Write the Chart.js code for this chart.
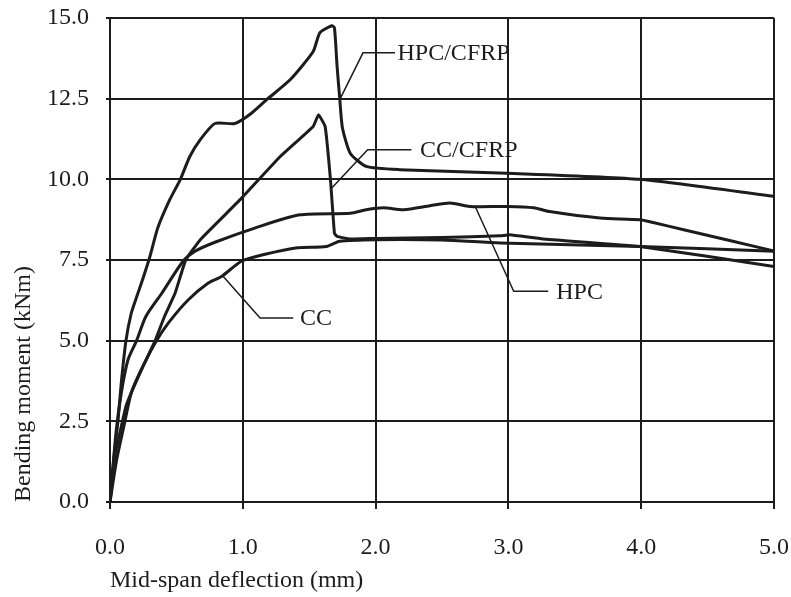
<!DOCTYPE html>
<html>
<head>
<meta charset="utf-8">
<script src="https://cdn.jsdelivr.net/npm/chart.js@4.4.1/dist/chart.umd.min.js"></script>
<style>
  html, body { margin: 0; padding: 0; background: #ffffff; }
  #wrap { width: 791px; height: 597px; }
</style>
</head>
<body>
<div id="wrap"><canvas id="c" width="791" height="597"></canvas></div>
<script>
// ---- Data ----
const xTickValues = [0, 1, 2, 3, 4, 5];
const yTickValues = [0, 2.5, 5, 7.5, 10, 12.5, 15];

const hpcCfrpX = [0, 0.03, 0.06, 0.085, 0.12, 0.16, 0.2, 0.25, 0.3, 0.36, 0.45, 0.53, 0.6, 0.68, 0.79, 0.94, 1.05, 1.18, 1.36, 1.53, 1.58, 1.67, 1.69, 1.71, 1.73, 1.75, 1.81, 1.93, 2.18, 2.99, 3.99, 5.0];
const hpcCfrpY = [0, 1.4, 2.5, 3.7, 5.0, 5.85, 6.35, 6.95, 7.6, 8.5, 9.37, 10.0, 10.7, 11.23, 11.73, 11.73, 12.0, 12.47, 13.1, 13.96, 14.54, 14.76, 14.7, 13.5, 12.5, 11.6, 10.8, 10.4, 10.3, 10.19, 10.0, 9.47];

const ccCfrpX = [0, 0.04, 0.085, 0.12, 0.17, 0.26, 0.34, 0.41, 0.49, 0.57, 0.68, 0.98, 1.28, 1.53, 1.57, 1.62, 1.66, 1.69, 1.71, 1.81, 2.0, 2.5, 2.94, 3.01, 3.26, 3.99, 5.0];
const ccCfrpY = [0, 1.5, 2.34, 2.96, 3.48, 4.3, 5.0, 5.75, 6.47, 7.5, 8.13, 9.37, 10.7, 11.64, 12.0, 11.64, 10.0, 8.33, 8.23, 8.15, 8.17, 8.2, 8.25, 8.28, 8.15, 7.92, 7.3];

const hpcX = [0, 0.045, 0.085, 0.135, 0.2, 0.27, 0.39, 0.55, 0.64, 0.79, 1.09, 1.43, 1.81, 1.93, 2.06, 2.21, 2.41, 2.56, 2.71, 2.99, 3.19, 3.31, 3.69, 3.99, 4.09, 4.32, 4.69, 5.0];
const hpcY = [0, 2.14, 3.38, 4.4, 5.0, 5.75, 6.47, 7.46, 7.77, 8.05, 8.49, 8.9, 8.95, 9.06, 9.12, 9.06, 9.18, 9.27, 9.16, 9.16, 9.12, 9.0, 8.8, 8.75, 8.66, 8.44, 8.08, 7.78];

const ccX = [0, 0.05, 0.11, 0.16, 0.235, 0.34, 0.44, 0.59, 0.74, 0.84, 0.99, 1.16, 1.41, 1.63, 1.73, 2.0, 2.5, 2.94, 3.99, 5.0];
const ccY = [0, 1.3, 2.45, 3.38, 4.1, 4.93, 5.55, 6.27, 6.79, 6.99, 7.46, 7.67, 7.88, 7.92, 8.08, 8.13, 8.12, 8.03, 7.92, 7.77];

// Callout labels and their leader lines (data units)
const labelNames = ['HPC/CFRP', 'CC/CFRP', 'HPC', 'CC'];
const leaderXs = [[1.73, 1.905, 2.146], [1.67, 1.94, 2.27], [2.75, 3.04, 3.30], [0.853, 1.13, 1.38]];
const leaderYs = [[12.47, 13.92, 13.92], [9.73, 10.92, 10.92], [9.16, 6.53, 6.53], [6.99, 5.70, 5.70]];
const labelX = [2.165, 2.335, 3.36, 1.43];
const labelY = [13.92, 10.92, 6.53, 5.70];

// ---- Build datasets ----
function pts(xs, ys) { return xs.map((x, i) => ({ x: x, y: ys[i] })); }
const ink = '#1c1c1c';
const serif = "'Times New Roman', 'Liberation Serif', serif";

const curveDatasets = [
  { label: 'HPC/CFRP', data: pts(hpcCfrpX, hpcCfrpY), tension: 0.2 },
  { label: 'CC/CFRP', data: pts(ccCfrpX, ccCfrpY), tension: 0.1 },
  { label: 'HPC', data: pts(hpcX, hpcY), tension: 0.25 },
  { label: 'CC', data: pts(ccX, ccY), tension: 0.25 }
].map(d => Object.assign(d, {
  showLine: true, borderColor: ink, borderWidth: 3, pointRadius: 0,
  fill: false, borderJoinStyle: 'round', borderCapStyle: 'round'
}));

const leaderDatasets = labelNames.map((n, i) => ({
  label: 'leader ' + n, data: pts(leaderXs[i], leaderYs[i]),
  showLine: true, borderColor: ink, borderWidth: 1.5, pointRadius: 0, tension: 0, fill: false
}));

const calloutPlugin = {
  id: 'callouts',
  afterDatasetsDraw(chart) {
    const ctx = chart.ctx;
    const xs = chart.scales.x, ys = chart.scales.y;
    ctx.save();
    ctx.fillStyle = ink;
    ctx.font = '24px ' + serif;
    ctx.textAlign = 'left';
    ctx.textBaseline = 'middle';
    labelNames.forEach((n, i) => {
      ctx.fillText(n, xs.getPixelForValue(labelX[i]), ys.getPixelForValue(labelY[i]) + 1);
    });
    ctx.restore();
  }
};

new Chart(document.getElementById('c'), {
  type: 'scatter',
  data: { datasets: curveDatasets.concat(leaderDatasets) },
  options: {
    responsive: false,
    animation: false,
    layout: { padding: { top: 18, right: 17, left: 0, bottom: 0 } },
    plugins: { legend: { display: false }, tooltip: { enabled: false } },
    scales: {
      x: {
        type: 'linear', min: 0, max: 5,
        afterBuildTicks(scale) { scale.ticks = xTickValues.map(v => ({ value: v })); },
        afterFit(scale) { scale.height = 95; scale.paddingLeft = 0; scale.paddingRight = 0; },
        grid: { color: ink, lineWidth: 2, tickLength: 7, tickColor: ink },
        border: { color: ink, width: 2 },
        ticks: { color: ink, font: { family: serif, size: 24 }, padding: 24, maxRotation: 0,
                 callback: v => Number(v).toFixed(1) },
        title: { display: true, text: 'Mid-span deflection (mm)', align: 'start', color: ink,
                 font: { family: serif, size: 24 }, padding: { top: 0, bottom: 2 } }
      },
      y: {
        type: 'linear', min: 0, max: 15,
        afterBuildTicks(scale) { scale.ticks = yTickValues.map(v => ({ value: v })); },
        afterFit(scale) { scale.width = 110; scale.paddingTop = 0; scale.paddingBottom = 0; },
        grid: { color: ink, lineWidth: 2, tickLength: 4, tickColor: ink },
        border: { color: ink, width: 2 },
        ticks: { color: ink, font: { family: serif, size: 24 }, padding: 17,
                 callback: v => Number(v).toFixed(1) },
        title: { display: true, text: 'Bending moment (kNm)', align: 'start', color: ink,
                 font: { family: serif, size: 24 }, padding: { top: 9, bottom: 0 } }
      }
    }
  },
  plugins: [calloutPlugin]
});
</script>
</body>
</html>
